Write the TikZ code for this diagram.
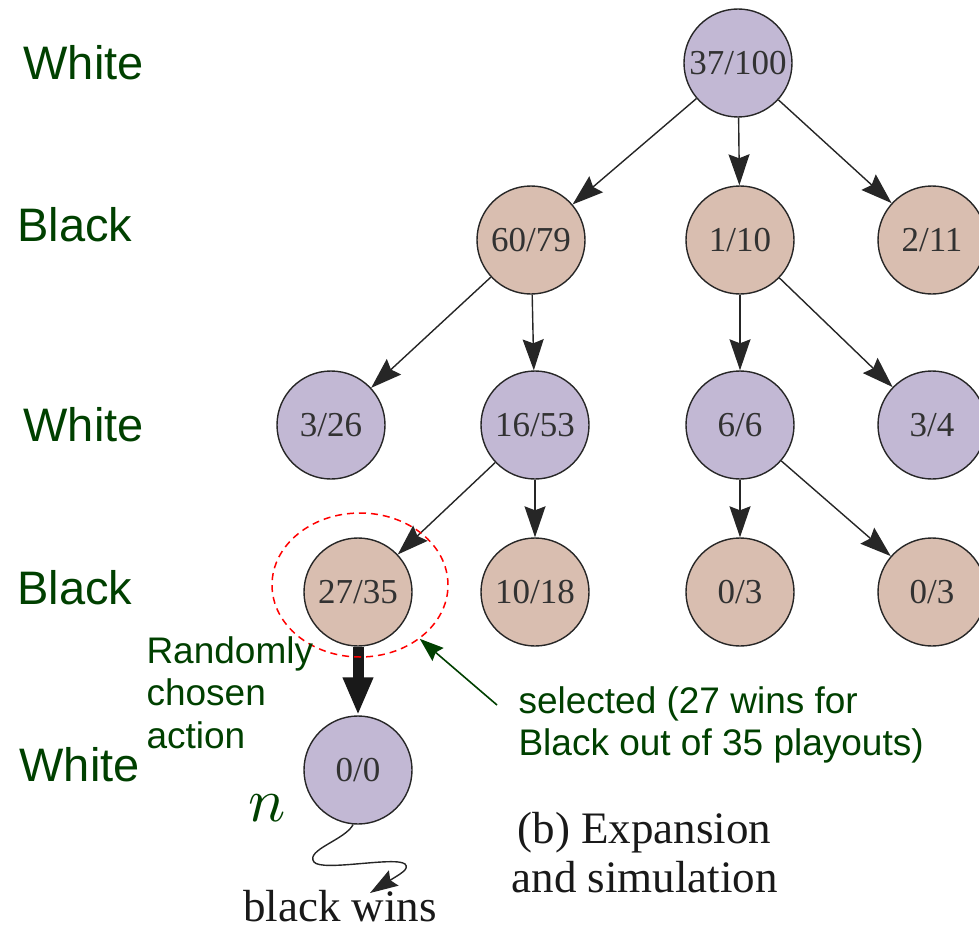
\documentclass[tikz,border=0pt]{standalone}
\usepackage{fontspec}
\setmainfont{Liberation Serif}
\setsansfont{Liberation Sans}
\usetikzlibrary{arrows.meta,shapes.geometric}
\definecolor{wnode}{RGB}{194,184,212}
\definecolor{bnode}{RGB}{217,190,176}
\definecolor{dgreen}{RGB}{0,64,0}
\definecolor{numgray}{RGB}{50,50,50}
\begin{document}
\begin{tikzpicture}[x=1pt,y=-1pt,
  treenode/.style={circle,draw=black!85,line width=1.4pt,minimum size=108pt,inner sep=0pt,
    text=numgray,font=\fontsize{35}{37}\selectfont},
  wn/.style={treenode,fill=wnode},
  bn/.style={treenode,fill=bnode},
  edge/.style={line width=1.4pt,draw=black!85,-{Stealth[length=31pt,width=21pt,inset=4pt]}},
  player/.style={anchor=west,text=dgreen,font=\sffamily\fontsize{47}{50}\selectfont},
  note/.style={anchor=north west,align=left,text=dgreen,font=\sffamily\fontsize{37}{42.5}\selectfont},
  serifcap/.style={text=black!90,font=\fontsize{45}{49}\selectfont}]
\useasboundingbox (0,0) rectangle (979,931);

% player rows
\node[player] (p1) at (20,63) {White};
\node[player] (p2) at (14,225) {Black};
\node[player] (p3) at (20,425) {White};
\node[player] (p4) at (14,588) {Black};
\node[player] (p5) at (16,765) {White};

% tree
\node[wn] (r) at (738,63) {37/100};
\node[bn] (a) at (531,240) {60/79};
\node[bn] (b) at (740,240) {1/10};
\node[bn] (c) at (932,240) {2/11};
\node[wn] (aa) at (331,425) {3/26};
\node[wn] (ab) at (535,425) {16/53};
\node[wn] (ba) at (740,425) {6/6};
\node[wn] (bb) at (932,425) {3/4};
\node[bn] (aba) at (358,592) {27/35};
\node[bn] (abb) at (535,592) {10/18};
\node[bn] (baa) at (740,592) {0/3};
\node[bn] (bab) at (932,592) {0/3};
\node[wn] (new) at (358,770) {0/0};

\draw[edge] (r) -- (a);
\draw[edge] (r) -- (b);
\draw[edge] (r) -- (c);
\draw[edge] (a) -- (aa);
\draw[edge] (a) -- (ab);
\draw[edge] (b) -- (ba);
\draw[edge] (b) -- (bb);
\draw[edge] (ab) -- (aba);
\draw[edge] (ab) -- (abb);
\draw[edge] (ba) -- (baa);
\draw[edge] (ba) -- (bab);

% expansion step
\draw[line width=11pt,draw=black!90,-{Triangle[length=38pt,width=28pt]}] (aba) -- (new);

% selection marker
\node[ellipse,draw=red,dashed,dash pattern=on 7pt off 5pt,line width=1.5pt,
  minimum width=176pt,minimum height=144pt,inner sep=0pt] (sel) at (360,585) {};
\coordinate (selfrom) at (497,705);
\draw[line width=1.6pt,draw=dgreen,-{Stealth[length=24pt,width=17pt,inset=3pt]}] (selfrom) -- (sel.-42);

\node[note] (rand) at (143,633) {Randomly\\chosen\\action};
\node[note] (seltxt) at (515,683) {selected (27 wins for\\Black out of 35 playouts)};

\node[text=dgreen] (nlab) at (267,808) {\scalebox{6.2}{$n$}};

% simulation
\node[serifcap] (win) at (340,906) {black wins};
\coordinate (simend) at (370,893);
\draw[line width=1.4pt,draw=black!85,-{Stealth[length=28pt,width=18pt,inset=4pt]}]
  (new.-95) .. controls (345,840) and (305,850) .. (314,862)
  .. controls (322,872) and (395,856) .. (405,864)
  .. controls (410,869) and (400,874) .. (simend);

\node[serifcap,align=left,anchor=west] (cap) at (508,853) {\hspace*{6pt}(b) Expansion\\and simulation};
\end{tikzpicture}
\end{document}
